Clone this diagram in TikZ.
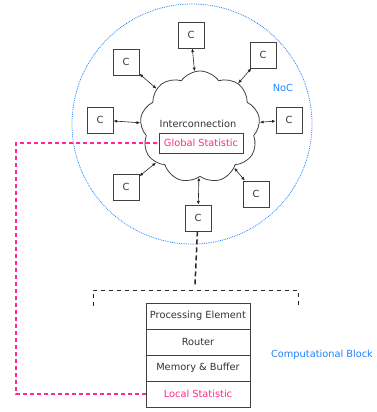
\documentclass[tikz,border=0pt]{standalone}
\usepackage{fontspec}
\setmainfont{DejaVu Sans}
\usepackage{xcolor}
\usetikzlibrary{arrows.meta}
\usetikzlibrary{shapes.symbols}

\definecolor{nocblue}{RGB}{30,130,255}
\definecolor{statpink}{RGB}{255,40,140}

\begin{document}
\begin{tikzpicture}[x=1pt,y=-1pt,font=\fontsize{9.8}{11}\selectfont]
\tikzset{>={Latex[width=1.1mm,length=1.3mm]}}
\tikzstyle{core} =[draw=black!75,line width=0.8pt,minimum size=26pt,inner sep=0pt,text=black!80]
\tikzstyle{layer} =[draw=black!75,line width=0.8pt,minimum width=104pt,minimum height=26pt,inner sep=0pt,text=black!80]
\tikzstyle{link} =[<->,line width=0.6pt,black!85]

\useasboundingbox (0,0) rectangle (376,412);

% network on chip
\node[circle,draw=nocblue,densely dotted,line width=0.8pt,minimum size=240pt,inner sep=0pt](noc) at (192,124){};
\node[text=nocblue](noclabel) at (283,88){NoC};
\node[cloud,cloud puffs=9,cloud puff arc=110,draw=black!75,line width=0.8pt,minimum width=120pt,minimum height=112pt,aspect=1.05](net) at (200,127){};
\node[text=black!80](inter) at (198,124){Interconnection};
\node[draw=black!75,line width=0.8pt,minimum width=84pt,minimum height=20pt,inner sep=0pt,text=statpink](gstat) at (201,143){Global Statistic};

\node[core](c1) at (191,35){C};
\node[core](c2) at (263,55){C};
\node[core](c3) at (289,120){C};
\node[core](c4) at (256,194){C};
\node[core](c5) at (198,218){C};
\node[core](c6) at (126,187){C};
\node[core](c7) at (100,120){C};
\node[core](c8) at (126,62){C};

\draw [link] (c1) to (net);
\draw [link] (c2) to (net);
\draw [link] (c3) to (net);
\draw [link] (c4) to (net);
\draw [link] (c5) to (net);
\draw [link] (c6) to (net);
\draw [link] (c7) to (net);
\draw [link] (c8) to (net);

% computational block
\node[layer](pe) at (198,316){Processing Element};
\node[layer](rt) at (198,342){Router};
\node[layer](mem) at (198,368){Memory \& Buffer};
\node[layer,text=statpink](lstat) at (198,394){Local Statistic};
\node[text=nocblue](blocklabel) at (322,355){Computational Block};

\coordinate (hub) at (195,285);
\coordinate (bl) at (93,306);
\coordinate (br) at (298,306);
\draw [dash pattern=on 5pt off 3pt,line width=1.5pt,black!85] (c5) to (hub);
\draw [dash pattern=on 4pt off 4pt,line width=1pt,black!85] (bl) -- ++(0,-16) -| (br);

% statistics path
\coordinate (bend) at (16,394);
\draw [->,dash pattern=on 4pt off 3pt,line width=1.1pt,statpink] (lstat.west) -- (bend) |- (gstat.west);
\end{tikzpicture}
\end{document}
